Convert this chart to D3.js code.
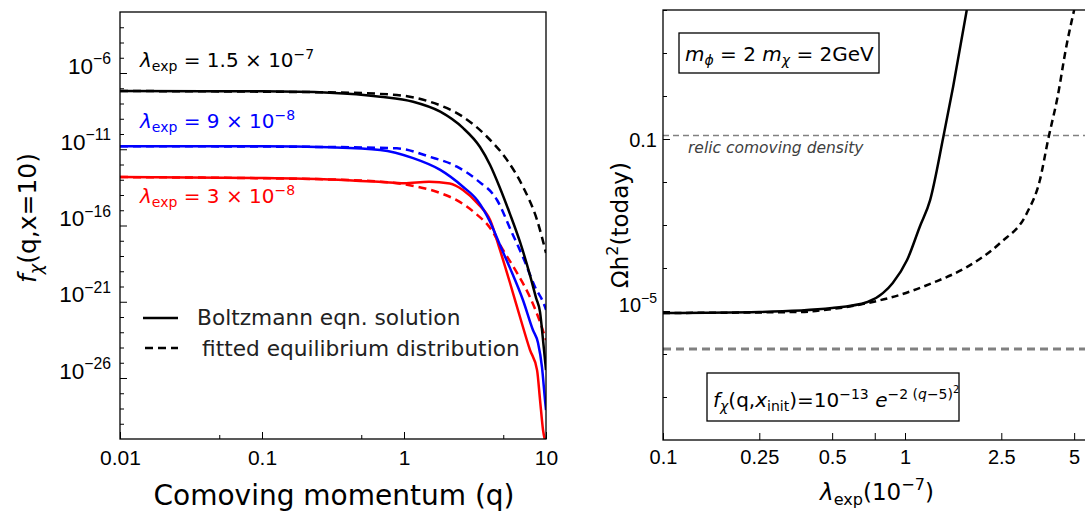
<!DOCTYPE html>
<html>
<head>
<meta charset="utf-8">
<script src="https://cdn.jsdelivr.net/npm/d3@7"></script>
<style>
  body { margin: 0; background: #fff; }
  svg { display: block; font-family: "DejaVu Sans", sans-serif; }
</style>
</head>
<body>
<svg id="chart" width="1085" height="511"></svg>
<script>
// ---- left panel: f_chi(q, x=10) ----
const qBlackSolid = [0.01, 0.1, 0.3, 0.68, 1.16, 1.8, 2.6, 3.43, 4.04, 4.74, 5.58, 6.56, 7.71, 8.51, 9.08, 9.53, 10];
const fBlackSolid = [6.6e-8, 6.3e-8, 5.1e-8, 2.8e-8, 1.3e-8, 2.9e-9, 2.5e-10, 1.4e-11, 9.3e-13, 2.9e-14, 5.6e-16, 8.3e-18, 5.6e-20, 1.8e-21, 2.1e-22, 3.1e-24, 3.3e-26];
const qBlackDash = [0.01, 0.3, 0.89, 1.52, 2.6, 3.84, 5.31, 6.88, 8.65, 10];
const fBlackDash = [6.6e-8, 5.4e-8, 3.6e-8, 1.3e-8, 1.35e-9, 6.6e-11, 2.0e-12, 3.5e-14, 2.3e-16, 1.6e-18];

const qBlueSolid = [0.01, 0.1, 0.3, 0.68, 1.16, 1.8, 2.6, 3.27, 4.04, 4.74, 5.58, 6.88, 8.09, 8.79, 9.37, 9.84, 10];
const fBlueSolid = [1.6e-11, 1.6e-11, 1.35e-11, 8.9e-12, 2.6e-12, 4.4e-13, 3.5e-14, 4.7e-15, 1.7e-16, 5.2e-18, 1.6e-19, 1.3e-21, 1.4e-23, 2.0e-24, 5.2e-26, 3.6e-28, 7.9e-29];
const qBlueDash = [0.01, 0.3, 0.89, 1.52, 2.36, 3.27, 4.52, 5.77, 6.88, 8.37, 9.84, 10];
const fBlueDash = [1.6e-11, 1.4e-11, 1.15e-11, 3.2e-12, 7.2e-13, 9.5e-14, 4.7e-15, 3.2e-17, 8.5e-19, 9.3e-21, 4.6e-22, 2.9e-22];

const qRedSolid = [0.01, 0.1, 0.3, 0.7, 1.0, 1.5, 2.1, 2.6, 3.27, 4.04, 4.74, 5.58, 6.56, 7.71, 8.65, 9.08, 9.53, 10];
const fRedSolid = [1.5e-13, 1.3e-13, 1.05e-13, 7.1e-14, 5.9e-14, 7.4e-14, 5.6e-14, 2.1e-14, 3.0e-15, 2.3e-16, 2.5e-18, 1.7e-20, 1.0e-22, 6.9e-25, 3.3e-26, 3.6e-28, 3.9e-30, 5e-31];
const qRedDash = [0.01, 0.3, 0.89, 1.24, 1.8, 2.4, 3.16, 4.04, 4.98, 6.25, 7.71, 9.08, 10];
const fRedDash = [1.5e-13, 1.05e-13, 5.9e-14, 3.5e-14, 1.35e-14, 4.1e-15, 6.6e-16, 6.9e-17, 2.5e-18, 7.8e-20, 2.0e-21, 4.7e-23, 3.1e-24];

const qMajorTicks = [0.01, 0.1, 1, 10];
const qMinorTicks = [0.05, 0.5, 5];
const fMajorExp = [-6, -11, -16, -21, -26];

// ---- right panel: Omega h^2 today vs lambda_exp ----
const lamSolid = [0.1, 0.25, 0.5, 0.7, 0.81, 0.89, 1.02, 1.15, 1.27, 1.44, 1.58, 1.8];
const omegaSolid = [9.0e-6, 9.5e-6, 1.17e-5, 1.62e-5, 2.6e-5, 4.5e-5, 1.53e-4, 9.0e-4, 3.8e-3, 0.111, 1.62, 100];
const lamDash = [0.1, 0.37, 0.5, 0.7, 0.95, 1.3, 1.8, 2.47, 3.19, 3.61, 3.9, 4.27, 4.65, 5.0];
const omegaDash = [9.0e-6, 9.5e-6, 1.11e-5, 1.53e-5, 2.36e-5, 4.5e-5, 1.05e-4, 3.8e-4, 1.9e-3, 0.0111, 0.095, 0.95, 15, 100];
const relicDensity = 0.12;
const initialDensity = 1.3e-6;
const lamTicks = [0.1, 0.25, 0.5, 0.75, 1, 2.5, 5];
const lamLabels = ["0.1", "0.25", "0.5", "", "1", "2.5", "5"];

const svg = d3.select("#chart");
svg.append("rect").attr("width", 1085).attr("height", 511).attr("fill", "#fff");

// write text made of pieces: normal, italic, sub, sup, sup2
function rich(text, parts, size) {
    text.text(null);
    let cur = 0;
    parts.forEach(p => {
        let off = 0, fs = size;
        if (p.s === "sup") { off = -0.42 * size; fs = size * 0.7; }
        if (p.s === "sub") { off = 0.22 * size; fs = size * 0.7; }
        if (p.s === "sup2") { off = -0.72 * size; fs = size * 0.5; }
        const ts = text.append("tspan").text(p.t).attr("dy", off - cur).attr("font-size", fs);
        if (p.it) ts.attr("font-style", "italic");
        cur = off;
    });
}

const zipped = (xs, ys) => xs.map((x, i) => [x, ys[i]]);

// ================= LEFT PANEL =================
const xL = d3.scaleLog().domain([0.01, 10]).range([120, 546]);
const yL = d3.scaleLog().domain([1e-30, 1e-2]).range([439, 12]);

svg.append("clipPath").attr("id", "clipL").append("rect")
    .attr("x", 120).attr("y", 12).attr("width", 426).attr("height", 427);

const lineL = d3.line().x(d => xL(d[0])).y(d => yL(d[1])).curve(d3.curveMonotoneX);

const leftSeries = [
    { q: qRedDash, f: fRedDash, color: "#ff0000", dash: true },
    { q: qRedSolid, f: fRedSolid, color: "#ff0000", dash: false },
    { q: qBlueDash, f: fBlueDash, color: "#0000ff", dash: true },
    { q: qBlueSolid, f: fBlueSolid, color: "#0000ff", dash: false },
    { q: qBlackDash, f: fBlackDash, color: "#000000", dash: true },
    { q: qBlackSolid, f: fBlackSolid, color: "#000000", dash: false }
];

const gL = svg.append("g").attr("clip-path", "url(#clipL)");
leftSeries.forEach(s => {
    gL.append("path")
        .attr("d", lineL(zipped(s.q, s.f)))
        .attr("fill", "none")
        .attr("stroke", s.color)
        .attr("stroke-width", 2.5)
        .attr("stroke-dasharray", s.dash ? "8,5" : null);
});

// axes (ticks point inward)
const fMinor = d3.range(-29, -2).filter(e => !fMajorExp.includes(e)).map(e => Math.pow(10, e));
svg.append("g").attr("transform", "translate(120,0)")
    .call(d3.axisLeft(yL).tickValues(fMinor).tickSize(-4).tickFormat(""))
    .call(g => g.select(".domain").remove());
const yAxL = svg.append("g").attr("transform", "translate(120,0)")
    .call(d3.axisLeft(yL).tickValues(fMajorExp.map(e => Math.pow(10, e))).tickSize(-7).tickPadding(9))
    .call(g => g.select(".domain").remove());
yAxL.selectAll("text").each(function (d) {
    rich(d3.select(this), [{ t: "10" }, { t: "−" + Math.round(-Math.log10(d)), s: "sup" }], 22.5);
}).attr("fill", "#000").attr("dy", "0.36em");

svg.append("g").attr("transform", "translate(0,439)")
    .call(d3.axisBottom(xL).tickValues(qMinorTicks).tickSize(-4).tickFormat(""))
    .call(g => g.select(".domain").remove());
svg.append("g").attr("transform", "translate(0,439)")
    .call(d3.axisBottom(xL).tickValues(qMajorTicks).tickSize(-7).tickPadding(11).tickFormat(d => String(d)))
    .call(g => g.select(".domain").remove())
    .call(g => g.selectAll("text").attr("font-size", 21).attr("fill", "#000"));

svg.selectAll(".tick line").attr("stroke", "#000").attr("stroke-width", 1);

svg.append("rect").attr("x", 120).attr("y", 12).attr("width", 426).attr("height", 427)
    .attr("fill", "none").attr("stroke", "#000").attr("stroke-width", 1.3);

// labels
svg.append("text").attr("x", 334).attr("y", 505).attr("text-anchor", "middle")
    .attr("font-size", 28).text("Comoving momentum (q)");
const yLabL = svg.append("text").attr("transform", "translate(36,218) rotate(-90)")
    .attr("text-anchor", "middle");
rich(yLabL, [{ t: "f", it: true }, { t: "χ", s: "sub", it: true }, { t: "(q,x=10)" }], 25);

// annotations
const annL = [
    { y: 67, color: "#000000", val: "1.5 × 10", exp: "−7" },
    { y: 128, color: "#0000ff", val: "9 × 10", exp: "−8" },
    { y: 203, color: "#ff0000", val: "3 × 10", exp: "−8" }
];
annL.forEach(a => {
    const t = svg.append("text").attr("x", 140).attr("y", a.y).attr("fill", a.color);
    rich(t, [{ t: "λ", it: true }, { t: "exp", s: "sub" }, { t: " = " + a.val }, { t: a.exp, s: "sup" }], 20);
});

// legend
svg.append("line").attr("x1", 143).attr("x2", 178).attr("y1", 318).attr("y2", 318)
    .attr("stroke", "#000").attr("stroke-width", 2.5);
svg.append("line").attr("x1", 145).attr("x2", 178).attr("y1", 348).attr("y2", 348)
    .attr("stroke", "#000").attr("stroke-width", 2.5).attr("stroke-dasharray", "8,5");
svg.append("text").attr("x", 197).attr("y", 325).attr("font-size", 21.7).attr("fill", "#222")
    .text("Boltzmann eqn. solution");
svg.append("text").attr("x", 202).attr("y", 356).attr("font-size", 21.7).attr("fill", "#222")
    .text("fitted equilibrium distribution");

// ================= RIGHT PANEL =================
const xR = d3.scaleLog().domain([0.1, 6]).range([663, 663 + 242 * Math.log10(60)]);
const yR = d3.scaleLog().domain([1e-8, 1e2]).range([440, 10]);

svg.append("clipPath").attr("id", "clipR").append("rect")
    .attr("x", 663).attr("y", 10).attr("width", 440).attr("height", 430);

const gR = svg.append("g").attr("clip-path", "url(#clipR)");
gR.append("line").attr("x1", 663).attr("x2", 1100)
    .attr("y1", yR(relicDensity)).attr("y2", yR(relicDensity))
    .attr("stroke", "#808080").attr("stroke-width", 1.5).attr("stroke-dasharray", "6,4");
gR.append("line").attr("x1", 663).attr("x2", 1100)
    .attr("y1", yR(initialDensity)).attr("y2", yR(initialDensity))
    .attr("stroke", "#808080").attr("stroke-width", 3).attr("stroke-dasharray", "8,5");

const lineR = d3.line().x(d => xR(d[0])).y(d => yR(d[1])).curve(d3.curveMonotoneX);
gR.append("path").attr("d", lineR(zipped(lamDash, omegaDash)))
    .attr("fill", "none").attr("stroke", "#000").attr("stroke-width", 2.5).attr("stroke-dasharray", "7,4.5");
gR.append("path").attr("d", lineR(zipped(lamSolid, omegaSolid)))
    .attr("fill", "none").attr("stroke", "#000").attr("stroke-width", 2.5);

const omegaMinor = d3.range(-7, 3).filter(e => e !== -5 && e !== -1).map(e => Math.pow(10, e));
svg.append("g").attr("transform", "translate(663,0)")
    .call(d3.axisLeft(yR).tickValues(omegaMinor).tickSize(-4).tickFormat(""))
    .call(g => g.select(".domain").remove());
const yAxR = svg.append("g").attr("transform", "translate(663,0)")
    .call(d3.axisLeft(yR).tickValues([1e-5, 0.1]).tickSize(-7).tickPadding(6))
    .call(g => g.select(".domain").remove());
yAxR.selectAll("text").each(function (d) {
    if (d < 1e-3) rich(d3.select(this), [{ t: "10" }, { t: "−5", s: "sup" }], 20);
    else d3.select(this).text("0.1").attr("font-size", 20);
}).attr("fill", "#000").attr("dy", "0.36em");

svg.append("g").attr("transform", "translate(0,440)")
    .call(d3.axisBottom(xR).tickValues(lamTicks).tickSize(-7).tickPadding(10)
        .tickFormat((d, i) => lamLabels[i]))
    .call(g => g.select(".domain").remove())
    .call(g => g.selectAll("text").attr("font-size", 20).attr("fill", "#000"));

svg.selectAll(".tick line").attr("stroke", "#000").attr("stroke-width", 1);

svg.append("rect").attr("x", 663).attr("y", 10).attr("width", 430).attr("height", 430)
    .attr("fill", "none").attr("stroke", "#000").attr("stroke-width", 1.3);

// labels
const xLabR = svg.append("text").attr("x", 877).attr("y", 500).attr("text-anchor", "middle");
rich(xLabR, [{ t: "λ", it: true }, { t: "exp", s: "sub" }, { t: "(10" }, { t: "−7", s: "sup" }, { t: ")" }], 23);
const yLabR = svg.append("text").attr("transform", "translate(628,225) rotate(-90)")
    .attr("text-anchor", "middle");
rich(yLabR, [{ t: "Ωh" }, { t: "2", s: "sup" }, { t: "(today)" }], 23);

// annotation boxes
svg.append("rect").attr("x", 679).attr("y", 33).attr("width", 200).attr("height", 40)
    .attr("fill", "#fff").attr("stroke", "#000").attr("stroke-width", 1.3);
const mBox = svg.append("text").attr("x", 685).attr("y", 61);
rich(mBox, [{ t: "m", it: true }, { t: "ϕ", s: "sub", it: true }, { t: " = 2 " },
    { t: "m", it: true }, { t: "χ", s: "sub", it: true }, { t: " = 2GeV" }], 20);

svg.append("text").attr("x", 688).attr("y", 153).attr("font-size", 15.5)
    .attr("font-style", "italic").attr("fill", "#404040").text("relic comoving density");

svg.append("rect").attr("x", 707).attr("y", 373).attr("width", 252).attr("height", 48)
    .attr("fill", "#fff").attr("stroke", "#000").attr("stroke-width", 1.3);
const fBox = svg.append("text").attr("x", 713).attr("y", 407);
rich(fBox, [{ t: "f", it: true }, { t: "χ", s: "sub", it: true }, { t: "(q," }, { t: "x", it: true },
    { t: "init", s: "sub" }, { t: ")=10" }, { t: "−13", s: "sup" }, { t: " " }, { t: "e", it: true },
    { t: "−2 (", s: "sup" }, { t: "q", s: "sup", it: true }, { t: "−5)", s: "sup" }, { t: "2", s: "sup2" }], 20);
</script>
</body>
</html>
